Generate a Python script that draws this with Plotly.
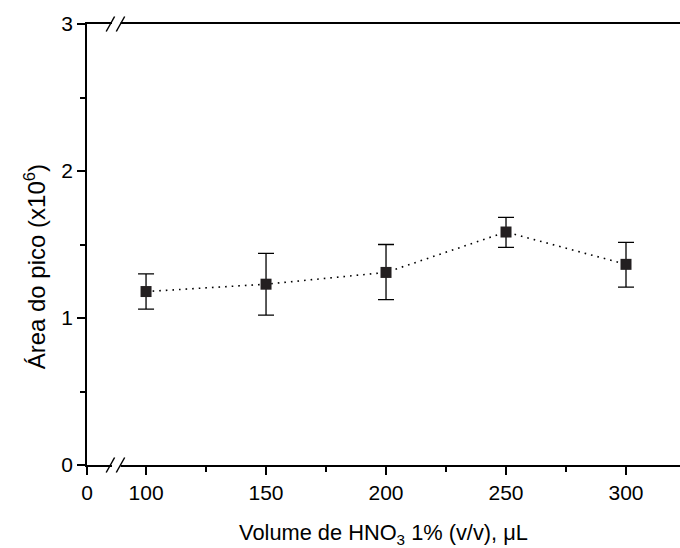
import plotly.graph_objects as go

# Data
volumes = [100, 150, 200, 250, 300]
areas = [1.18, 1.23, 1.31, 1.585, 1.365]
err_plus = [0.12, 0.21, 0.19, 0.10, 0.15]
err_minus = [0.12, 0.21, 0.185, 0.105, 0.155]
x_tick_vals = [100, 150, 200, 250, 300]
x_tick_text = ["100", "150", "200", "250", "300"]
y_tick_vals = [0, 1, 2, 3]

# Broken-axis: the "0" label sits at the left end of the compressed segment
x_zero_pos = 75.4
x_max = 322.5

font_family = "Liberation Sans, Arial, sans-serif"

fig = go.Figure()
fig.add_trace(go.Scatter(
    x=volumes, y=areas,
    mode="lines+markers",
    line=dict(color="black", width=1.6, dash="1.6px,5px"),
    marker=dict(symbol="square", size=11, color="#231f20"),
    error_y=dict(type="data", symmetric=False, array=err_plus, arrayminus=err_minus,
                 color="black", thickness=1.3, width=8),
    showlegend=False,
))

# break marks on bottom and top axes
shapes = []
for yp in [0, 1]:
    shapes.append(dict(type="rect", xref="x", yref="paper", x0=85.8, x1=89.4,
                       y0=yp - 0.008, y1=yp + 0.008, fillcolor="white",
                       line=dict(width=0), layer="above"))
    for xa in [83.4, 87.6]:
        shapes.append(dict(type="line", xref="x", yref="paper",
                           x0=xa, x1=xa + 3.5, y0=yp - 0.017, y1=yp + 0.017,
                           line=dict(color="black", width=1.5), layer="above"))

fig.update_layout(
    width=680, height=548,
    margin=dict(l=87, r=0, t=24, b=83),
    paper_bgcolor="white", plot_bgcolor="white",
    font=dict(family=font_family, size=21, color="black"),
    shapes=shapes,
    annotations=[dict(
        text="Área do pico (x10<sup>6</sup>)",
        xref="paper", yref="paper", x=-0.088, y=0.45,
        xanchor="center", yanchor="middle", textangle=-90,
        showarrow=False, font=dict(size=24),
    )],
    xaxis=dict(
        range=[x_zero_pos, x_max],
        tickmode="array",
        tickvals=[x_zero_pos] + x_tick_vals,
        ticktext=["0"] + x_tick_text,
        ticks="outside", ticklen=8, tickwidth=1.5, tickcolor="black",
        minor=dict(tickmode="array", tickvals=[125, 175, 225, 275, 325],
                   ticks="outside", ticklen=5, tickwidth=1.5, tickcolor="black"),
        showline=True, linecolor="black", linewidth=2, mirror=True,
        showgrid=False, zeroline=False,
        title=dict(text="Volume de HNO<sub>3</sub> 1% (v/v), μL",
                   font=dict(size=21.8), standoff=22),
        tickfont=dict(size=21),
    ),
    yaxis=dict(
        range=[0, 3],
        tickmode="array", tickvals=y_tick_vals,
        ticks="outside", ticklen=8, tickwidth=1.5, tickcolor="black",
        minor=dict(tickmode="array", tickvals=[0.5, 1.5, 2.5],
                   ticks="outside", ticklen=5, tickwidth=1.5, tickcolor="black"),
        showline=True, linecolor="black", linewidth=1.5, mirror=False,
        showgrid=False, zeroline=False,
        tickfont=dict(size=21),
    ),
)

fig.write_html("out.html", config={"displayModeBar": False},
               post_script="document.body.style.margin='0';document.body.style.padding='0';")
